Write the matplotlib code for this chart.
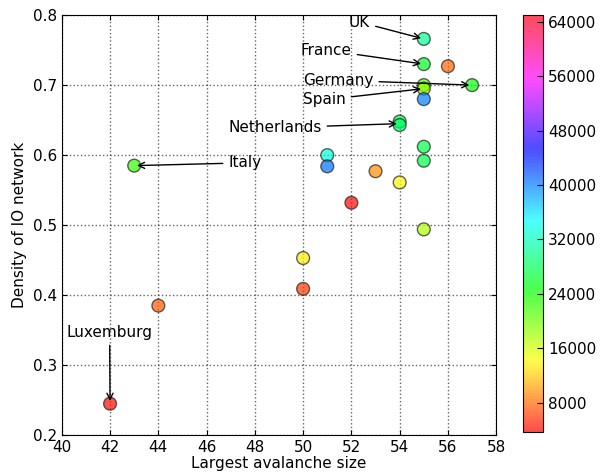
import numpy as np
import matplotlib
matplotlib.use('Agg')
import matplotlib.pyplot as plt

# largest avalanche size, density of IO network, colour value
avalanche = [55, 55, 56, 57, 55, 55, 55, 54, 54, 55, 55, 51, 51, 53, 54, 52, 55, 43, 50, 50, 44, 42]
density = [0.766, 0.730, 0.727, 0.700, 0.700, 0.695, 0.680, 0.648, 0.643, 0.612, 0.592,
           0.600, 0.584, 0.577, 0.561, 0.532, 0.494, 0.585, 0.453, 0.409, 0.385, 0.245]
color_val = [30500, 26000, 8000, 24500, 21000, 18500, 40000, 28000, 28500, 27500, 27500,
             33000, 40500, 9500, 14000, 4000, 17500, 22500, 13500, 6000, 7500, 4200]

labels = ['UK', 'France', 'Germany', 'Spain', 'Netherlands', 'Italy', 'Luxemburg']
label_pts = [(55, 0.766), (55, 0.730), (57, 0.700), (55, 0.695), (54, 0.645), (43, 0.585), (42, 0.245)]
label_txt = [(51.9, 0.79), (49.9, 0.75), (50.0, 0.707), (50.0, 0.679), (46.9, 0.639), (46.9, 0.589), (40.2, 0.347)]

plt.rcParams['font.family'] = 'DejaVu Sans'
plt.rcParams['font.size'] = 12

fig = plt.figure(figsize=(6, 4.72), dpi=100)
ax = fig.add_axes([0.103, 0.078, 0.724, 0.89])
cax = fig.add_axes([0.872, 0.085, 0.033, 0.883])

sc = ax.scatter(avalanche, density, c=color_val, cmap='hsv', vmin=3700, vmax=65000,
                s=85, alpha=0.7, edgecolors='#222222', linewidths=1, zorder=3)

for name, pt, txt in zip(labels, label_pts, label_txt):
    ax.annotate(name, xy=pt, xytext=txt, fontsize=11, va='center',
                arrowprops=dict(arrowstyle='->', color='black', lw=1), zorder=4)

ax.set_xlim(40, 58)
ax.set_ylim(0.2, 0.8)
ax.set_xticks(np.arange(40, 59, 2))
ax.set_yticks(np.arange(0.2, 0.81, 0.1))
ax.set_yticklabels(['0.2', '0.3', '0.4', '0.5', '0.6', '0.7', '0.8'])
ax.grid(True, linestyle=':', color='black', alpha=0.6, lw=1)
ax.tick_params(direction='in', top=True, right=True, labelsize=11)
ax.set_xlabel('Largest avalanche size', fontsize=11, labelpad=1)
ax.set_ylabel('Density of IO network', fontsize=11)

cb = fig.colorbar(sc, cax=cax, ticks=np.arange(8000, 64001, 8000))
cb.solids.set_alpha(0.7)
cb.ax.tick_params(labelsize=11, direction='in', length=4)

fig.savefig('out.png', dpi=100)
